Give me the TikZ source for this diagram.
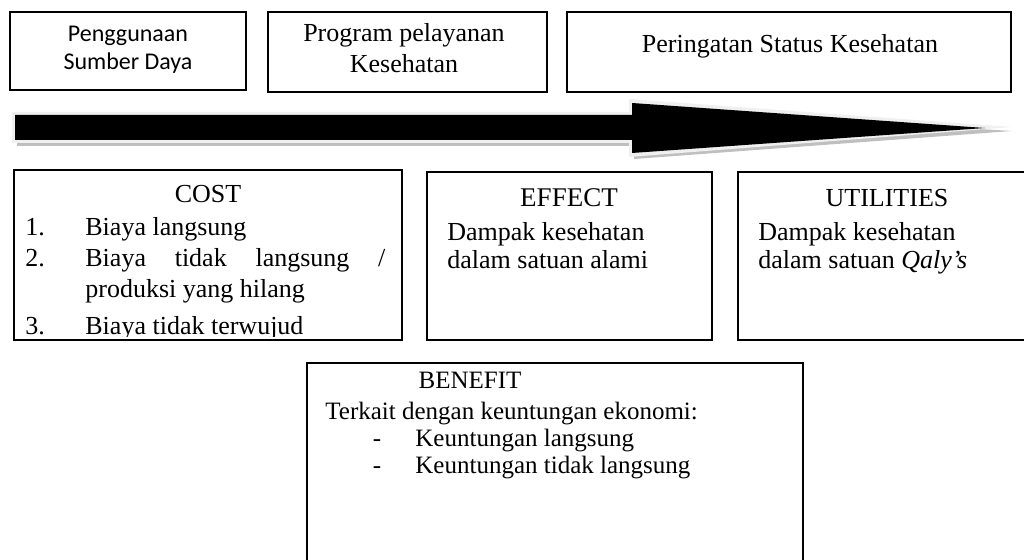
\documentclass[tikz,border=0pt]{standalone}
\usepackage{fontspec}
\setmainfont{Liberation Serif}
\newfontfamily\calibri{Carlito}
\tikzset{
 box/.style={draw=black, line width=0.8pt},
 txt/.style={inner sep=0pt, font=\fontsize{13}{16}\selectfont, text height=9pt, text depth=3pt},
 head/.style={txt, font=\fontsize{13.5}{16}\selectfont},
 sans/.style={inner sep=0pt, font=\calibri\fontsize{12}{14}\selectfont, text height=9pt, text depth=3pt},
 small/.style={txt, font=\fontsize{12.5}{15}\selectfont},
}
\begin{document}
\begin{tikzpicture}[x=0.5pt, y=-0.5pt]
 \useasboundingbox (0,0) rectangle (1024,560);
 % top row
 \draw[box] (10,12) rectangle (246,90);
 \node[sans] (guna) at (128,36) {Penggunaan};
 \node[sans] (daya) at (128,64) {Sumber Daya};
 \draw[box] (268,12) rectangle (547,92);
 \node[txt] (prog) at (404,36) {Program pelayanan};
 \node[txt] (kes) at (404,67) {Kesehatan};
 \draw[box] (567,12) rectangle (1011,92);
 \node[txt] (status) at (790,47) {Peringatan Status Kesehatan};
 % arrow
 \fill[gray!50] (17,120) -- (634,120) -- (634,108) -- (1012,131) -- (634,159) -- (634,146) -- (17,146) -- cycle;
 \fill[gray!12] (12,112) -- (629,112) -- (629,99) -- (1012,127) -- (629,157) -- (629,143) -- (12,143) -- cycle;
 \fill[black] (15,115) -- (632,115) -- (632,103) -- (985,128) -- (632,153) -- (632,140) -- (15,140) -- cycle;
 % cost
 \draw[box] (14,170) rectangle (402,340);
 \node[txt] (cost) at (208,197) {COST};
 \node[txt, anchor=west] (n1) at (25,230) {1.};
 \node[txt, anchor=west] (c1) at (85,230) {Biaya langsung};
 \node[txt, anchor=west] (n2) at (25,261) {2.};
 \node[txt, anchor=west] (c2) at (85,261) {\makebox[150pt][s]{Biaya\hfill tidak\hfill langsung\hfill /}};
 \node[txt, anchor=west] (c2b) at (85,292) {produksi yang hilang};
 \begin{scope}
 \clip (14,170) rectangle (402,337);
 \node[txt, anchor=west] (n3) at (25,329) {3.};
 \node[txt, anchor=west] (c3) at (85,329) {Biaya tidak terwujud};
 \end{scope}
 % effect
 \draw[box] (427,172) rectangle (712,340);
 \node[head] (effect) at (569,201) {EFFECT};
 \node[txt, anchor=west] (e1) at (447,235) {Dampak kesehatan};
 \node[txt, anchor=west] (e2) at (447,263) {dalam satuan alami};
 % utilities
 \draw[box] (738,172) rectangle (1030,340);
 \node[txt] (util) at (887,201) {UTILITIES};
 \node[txt, anchor=west] (u1) at (758,235) {Dampak kesehatan};
 \node[txt, anchor=west] (u2) at (758,263) {dalam satuan \textit{Qaly’s}};
 % benefit
 \draw[box] (307,570) -- (307,363) -- (803,363) -- (803,570);
 \node[small] (benefit) at (470,383) {BENEFIT};
 \node[small, anchor=west] (b1) at (325,414) {Terkait dengan keuntungan ekonomi:};
 \node[small] (d1) at (377,441) {-};
 \node[small, anchor=west] (k1) at (415,441) {Keuntungan langsung};
 \node[small] (d2) at (377,468) {-};
 \node[small, anchor=west] (k2) at (415,468) {Keuntungan tidak langsung};
\end{tikzpicture}
\end{document}
